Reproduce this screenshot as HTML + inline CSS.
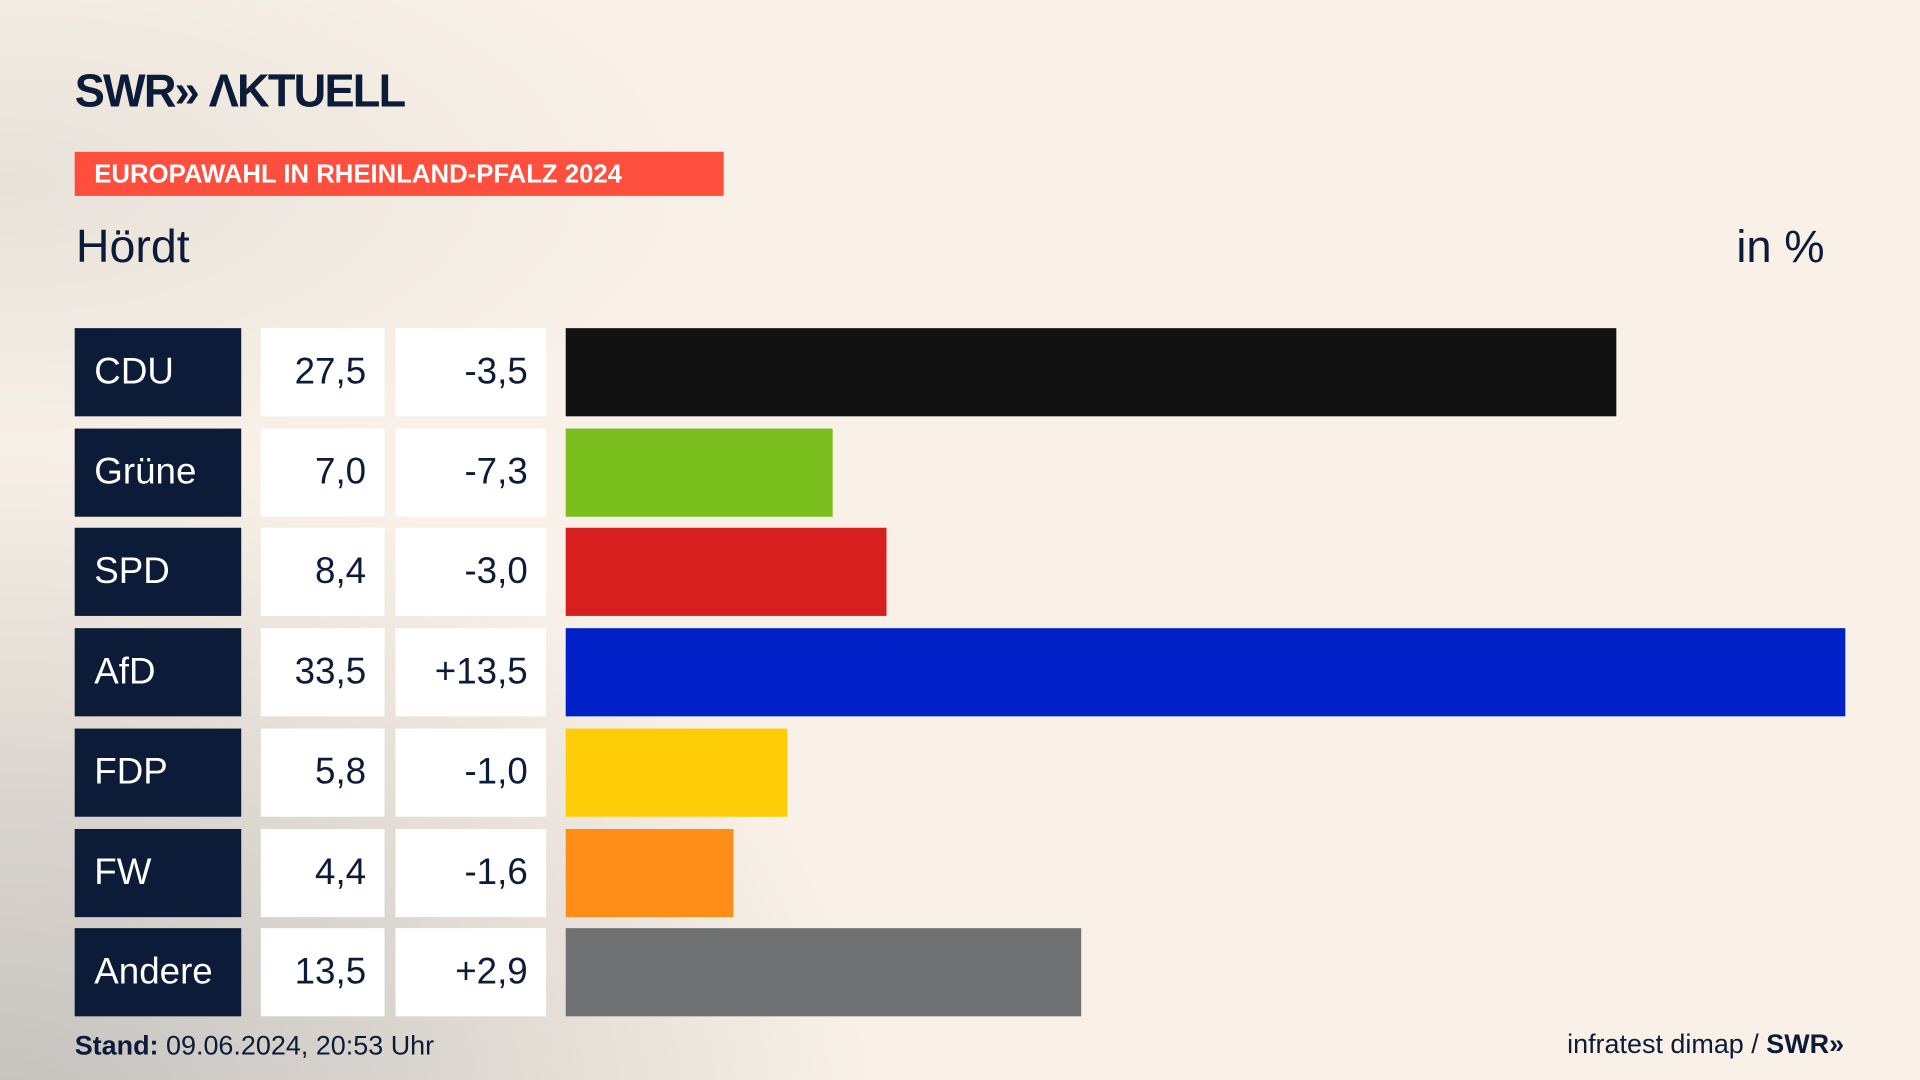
<!DOCTYPE html>
<html><head><meta charset="utf-8"><style>
html,body{margin:0;padding:0;width:1920px;height:1080px;overflow:hidden;background:#f8f0e6}
#wrap{position:absolute;left:0;top:0;width:1568px;height:882px;transform:scale(1.2244898);transform-origin:0 0;
background:radial-gradient(ellipse 950px 750px at 0px 920px,#c4c1bd 0%,#d9d4ce 35%,rgba(248,240,230,0) 75%),radial-gradient(ellipse 700px 300px at 0px 150px,#e8e2da 0%,rgba(248,240,230,0) 80%),#f9f1e7;
font-family:"Liberation Sans","DejaVu Sans",sans-serif;color:#0c1b38}
.abs{position:absolute}
.party{background:#0c1b38;color:#fff;font-size:30px;line-height:72px;padding-left:16px;box-sizing:border-box}
.val{background:#fff;font-size:30px;line-height:72px;text-align:right;padding-right:15px;box-sizing:border-box;color:#0c1b38}
</style></head><body>
<div id="wrap">
<div class="abs" style="left:61px;top:54px;font-size:38px;font-weight:bold;letter-spacing:-1.5px;transform:scaleX(0.97);transform-origin:0 0">SWR» ΛKTUELL</div>
<div class="abs" style="left:61px;top:124px;width:530px;height:36px;background:#fe4f3e;color:#fff;font-weight:bold;font-size:21px;line-height:38px;padding-left:16px;box-sizing:border-box">EUROPAWAHL IN RHEINLAND-PFALZ 2024</div>
<div class="abs" style="left:62px;top:181px;font-size:38px">Hördt</div>
<div class="abs" style="left:1380px;width:110px;text-align:right;top:181px;font-size:37px">in %</div>
<div id="rows"></div>
<div class="abs" style="left:61px;top:841px;font-size:22px"><b>Stand:</b> 09.06.2024, 20:53 Uhr</div>
<div class="abs" style="left:1200px;width:306px;text-align:right;top:840px;font-size:22px">infratest dimap / <b>SWR»</b></div>
</div>
<script>
const parties=["CDU","Grüne","SPD","AfD","FDP","FW","Andere"];
const shares=[27.5,7.0,8.4,33.5,5.8,4.4,13.5];
const diffs=["-3,5","-7,3","-3,0","+13,5","-1,0","-1,6","+2,9"];
const colors=["#121212","#79be1c","#d71f1f","#0020c8","#ffcc08","#ff8e18","#707172"];
const x0=462,pxPer=1045/33.5,top0=268,pitch=81.7,h=72;
const rows=document.getElementById('rows');
function fmt(v){return v.toFixed(1).replace('.',',');}
parties.forEach((p,i)=>{
 const y=top0+i*pitch;
 const a=document.createElement('div');a.className='abs party';
 
 
 a.style.cssText+=`left:61px;top:${y}px;width:136px;height:${h}px`;a.textContent=p;rows.appendChild(a);
 const b=document.createElement('div');b.className='abs val';
 
 
 b.style.cssText+=`left:213px;top:${y}px;width:101px;height:${h}px`;b.textContent=fmt(shares[i]);rows.appendChild(b);
 const c=document.createElement('div');c.className='abs val';
 
 
 c.style.cssText+=`left:323px;top:${y}px;width:123px;height:${h}px`;c.textContent=diffs[i];rows.appendChild(c);
 const d=document.createElement('div');d.className='abs';
 
 
 d.style.cssText=`left:${x0}px;top:${y}px;width:${shares[i]*pxPer}px;height:${h}px;background:${colors[i]}`;rows.appendChild(d);
});
</script>
</body></html>
